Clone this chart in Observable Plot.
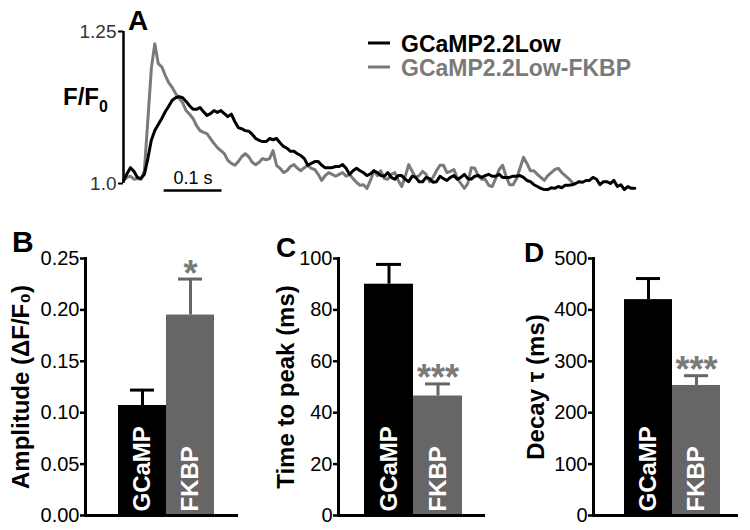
<!DOCTYPE html>
<html><head><meta charset="utf-8">
<script src="https://cdn.jsdelivr.net/npm/d3@7"></script>
<script src="https://cdn.jsdelivr.net/npm/@observablehq/plot@0.6"></script>
<style>
body{margin:0;background:#fff;}
#wrap{position:relative;width:750px;height:530px;background:#fff;font-family:"Liberation Sans",Arial,sans-serif;}
#wrap svg{position:absolute;overflow:visible;}
</style></head><body><div id="wrap"></div>
<script>
// ---------- Panel A data: F/F0 traces, sampled every dtMs ----------
const dtMs = 6;
const seriesNames = ["GCaMP2.2Low", "GCaMP2.2Low-FKBP"];
const traceLow = [
1.005,1.016,1.026,1.020,1.010,1.008,1.015,1.041,1.071,1.087,
1.097,1.107,1.118,1.127,1.137,1.141,1.143,1.141,1.135,1.128,
1.122,1.122,1.125,1.118,1.112,1.115,1.120,1.117,1.120,1.115,
1.110,1.114,1.102,1.092,1.090,1.087,1.086,1.081,1.074,1.071,
1.069,1.069,1.074,1.072,1.074,1.067,1.061,1.058,1.053,1.053,
1.049,1.046,1.041,1.030,1.033,1.036,1.036,1.030,1.026,1.026,
1.026,1.028,1.028,1.031,1.025,1.015,1.021,1.025,1.021,1.018,
1.013,1.016,1.021,1.018,1.013,1.012,1.018,1.010,1.007,1.013,
1.013,1.007,1.003,1.012,1.010,1.003,1.003,1.010,1.008,1.002,
1.003,1.012,1.008,1.005,1.010,1.013,1.007,1.010,1.015,1.008,
1.007,1.012,1.013,1.010,1.013,1.015,1.012,1.012,1.015,1.010,
1.010,1.010,1.012,1.012,1.013,1.010,1.005,1.003,0.998,0.995,
0.992,0.990,0.990,0.993,0.992,0.995,0.993,0.997,0.997,0.998,
1.000,1.003,1.002,1.005,1.005,1.010,1.007,0.998,1.003,1.003,
1.000,1.005,0.995,0.998,0.990,0.995,0.992,0.992];
const traceFkbp = [
1.005,1.010,1.012,1.007,1.008,1.007,1.021,1.104,1.189,1.230,
1.197,1.192,1.178,1.166,1.158,1.148,1.140,1.133,1.120,1.114,
1.107,1.095,1.087,1.084,1.082,1.074,1.066,1.059,1.054,1.049,
1.038,1.033,1.030,1.036,1.044,1.049,1.044,1.035,1.031,1.035,
1.041,1.039,1.041,1.054,1.030,1.025,1.018,1.021,1.028,1.031,
1.025,1.021,1.026,1.030,1.025,1.023,1.015,1.005,1.013,1.018,
1.015,1.012,1.015,1.018,1.012,1.015,1.008,1.002,0.997,0.998,
0.992,1.005,1.021,1.013,1.021,1.008,1.007,1.015,1.018,1.005,
0.995,1.012,1.031,1.020,1.010,1.013,1.020,1.015,1.003,1.010,
1.021,1.030,1.030,1.018,1.020,1.023,1.008,1.000,0.992,1.000,
1.026,1.025,1.013,1.007,1.007,0.997,0.995,1.008,1.023,1.030,
1.012,0.998,0.998,1.008,1.025,1.043,1.033,1.021,1.021,1.015,
1.010,1.005,1.013,1.018,1.023,1.025,1.018,1.013,1.008,1.002];
const traceYTicks = [1.0, 1.25];
const traceYTickLabels = ["1.0", "1.25"];
const scaleBarStartMs = 70;
const scaleBarLenMs = 100;
const scaleBarLabel = "0.1 s";

// ---------- Panels B-D data ----------
const groups = ["GCaMP", "FKBP"];
const ampMean = [0.107, 0.195];
const ampSem = [0.015, 0.035];
const ampSig = ["", "*"];
const ampTicks = [0, 0.05, 0.10, 0.15, 0.20, 0.25];
const ttpMean = [90, 46.5];
const ttpSem = [7.7, 4.7];
const ttpSig = ["", "***"];
const ttpTicks = [0, 20, 40, 60, 80, 100];
const decayMean = [420, 253];
const decaySem = [41, 19];
const decaySig = ["", "***"];
const decayTicks = [0, 100, 200, 300, 400, 500];

const FONT = '"Liberation Sans", Arial, Helvetica, sans-serif';
const BLACK = "#000";
const GRAY_TRACE = "#7a7a7a";
const GRAY_BAR = "#666666";
const GRAY_STAR = "#7a7a7a";
const wrap = document.getElementById("wrap");

function place(svg, left, top) {
  svg.style.left = left + "px";
  svg.style.top = top + "px";
  wrap.appendChild(svg);
}

// ---------- Panel A ----------
const lowData = traceLow.map((v, i) => ({t: i * dtMs, v, s: seriesNames[0]}));
const fkbpData = traceFkbp.map((v, i) => ({t: i * dtMs, v, s: seriesNames[1]}));
const panelA = Plot.plot({
  width: 750, height: 200,
  marginLeft: 123, marginRight: 114, marginTop: 31, marginBottom: 17,
  style: {fontFamily: FONT, fontSize: "19px", background: "transparent", overflow: "visible"},
  x: {domain: [0, 885], axis: null},
  y: {domain: [1.0, 1.25], axis: null},
  marks: [
    Plot.ruleX([0], {y1: traceYTicks[0], y2: traceYTicks[1], strokeWidth: 2.5, stroke: BLACK}),
    Plot.axisY({ticks: traceYTicks, tickFormat: (d) => traceYTickLabels[traceYTicks.indexOf(d)], tickSize: 5, tickPadding: 2, strokeWidth: 2, fontSize: 19, fill: "#333", label: null}),
    Plot.lineY(fkbpData, {x: "t", y: "v", stroke: GRAY_TRACE, strokeWidth: 3}),
    Plot.lineY(lowData, {x: "t", y: "v", stroke: BLACK, strokeWidth: 3}),
    Plot.ruleY([traceYTicks[0]], {x1: scaleBarStartMs, x2: scaleBarStartMs + scaleBarLenMs, dy: 7, strokeWidth: 2.5, stroke: BLACK}),
    Plot.text([scaleBarLabel], {x: scaleBarStartMs + scaleBarLenMs / 2, y: traceYTicks[0], dy: -5, fontSize: 18, fill: BLACK})
  ]
});
place(panelA, 0, 0);

// ---------- Bar panels ----------
function barPanel(o) {
  const data = groups.map((g, i) => ({g, m: o.mean[i], e: o.sem[i], top: o.mean[i] + o.sem[i], sig: o.sig[i]}));
  return Plot.plot({
    width: o.width, height: 340,
    marginLeft: o.mL, marginRight: o.mR, marginTop: 68, marginBottom: 15,
    style: {fontFamily: FONT, fontSize: "20px", background: "transparent", overflow: "visible"},
    x: {type: "band", domain: groups, range: o.range, padding: 0, axis: null},
    y: {domain: [0, o.ticks[o.ticks.length - 1]], axis: null},
    color: {domain: groups, range: [BLACK, GRAY_BAR]},
    marks: [
      Plot.ruleX(data, {x: "g", y1: "m", y2: "top", stroke: "g", strokeWidth: 3}),
      Plot.tickY(data, {x: "g", y: "top", stroke: "g", strokeWidth: 3, insetLeft: 12, insetRight: 12}),
      Plot.barY(data, {x: "g", y: "m", fill: "g"}),
      Plot.text(data, {x: "g", y: 0, text: "g", rotate: -90, textAnchor: "start", dy: -4, fill: "#fff", fontWeight: "bold", fontSize: 24}),
      Plot.text(data, {x: "g", y: "top", text: "sig", dy: -5, fill: GRAY_STAR, fontWeight: "bold", fontSize: 36}),
      Plot.axisY({ticks: o.ticks, tickFormat: o.fmt, tickSize: 5, tickPadding: 1, strokeWidth: 2.5, label: null, fontSize: 20}),
      Plot.frame({anchor: "left", strokeWidth: 3, stroke: BLACK}),
      Plot.ruleY([0], {strokeWidth: 3, stroke: BLACK}),
      Plot.text([o.label], {frameAnchor: "left", rotate: -90, textAnchor: "middle", dx: o.labelDx, fontWeight: "bold", fontSize: 24, fill: BLACK})
    ]
  });
}

place(barPanel({width: 250, mL: 85, mR: 12, range: [117, 214], mean: ampMean, sem: ampSem, sig: ampSig, ticks: ampTicks, fmt: d3.format(".2f"), label: "Amplitude (\u0394F/F\u2080)", labelDx: -64}), 0, 190);
place(barPanel({width: 250, mL: 88, mR: 15, range: [114, 212], mean: ttpMean, sem: ttpSem, sig: ttpSig, ticks: ttpTicks, fmt: d3.format("d"), label: "Time to peak (ms)", labelDx: -52}), 250, 190);
place(barPanel({width: 250, mL: 93, mR: 12, range: [123, 220], mean: decayMean, sem: decaySem, sig: decaySig, ticks: decayTicks, fmt: d3.format("d"), label: "Decay \u03c4 (ms)", labelDx: -57}), 500, 190);

// ---------- Annotations: panel letters, F/F0 label, legend ----------
const ov = d3.select(wrap).append("svg")
  .attr("width", 750).attr("height", 530)
  .style("left", "0px").style("top", "0px")
  .style("pointer-events", "none")
  .attr("font-family", FONT);
const letters = [["A", 128, 30, 28], ["B", 12, 252, 30], ["C", 276, 257, 28], ["D", 524, 262, 28]];
letters.forEach(([t, x, y, s]) => ov.append("text").attr("x", x).attr("y", y).attr("font-size", s).attr("font-weight", "bold").text(t));
const ff = ov.append("text").attr("x", 63).attr("y", 105).attr("font-size", 24).attr("font-weight", "bold");
ff.append("tspan").text("F/F");
ff.append("tspan").attr("dy", 7).attr("font-size", 16).text("0");
const legendColors = [BLACK, GRAY_TRACE];
seriesNames.forEach((name, i) => {
  const y = 43 + i * 24;
  ov.append("line").attr("x1", 368).attr("x2", 390).attr("y1", y).attr("y2", y).attr("stroke", legendColors[i]).attr("stroke-width", 3);
  ov.append("text").attr("x", 401).attr("y", y + 9).attr("font-size", 23).attr("font-weight", "bold").attr("fill", legendColors[i]).text(name);
});
</script>
</body></html>
